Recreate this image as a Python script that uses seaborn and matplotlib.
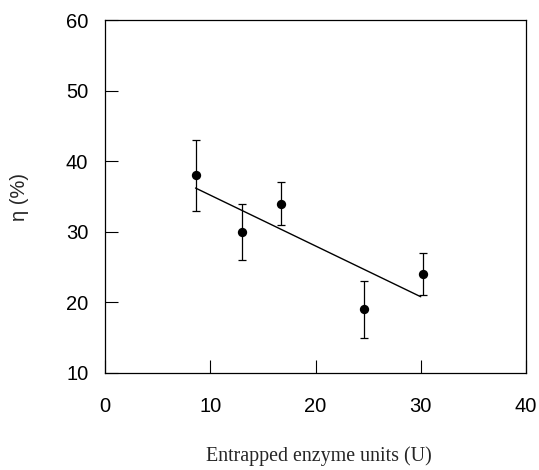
import matplotlib
matplotlib.use("Agg")
import matplotlib.pyplot as plt
import seaborn as sns
import pandas as pd

# data
enzyme_units = [8.6, 13.0, 16.7, 24.6, 30.2]
eta_mean = [38.0, 30.0, 34.0, 19.0, 24.0]
eta_upper = [43.0, 34.0, 37.0, 23.0, 27.0]
eta_lower = [33.0, 26.0, 31.0, 15.0, 21.0]
fit_x = [8.6, 30.0]
fit_y = [36.2, 20.8]
x_ticks = [0, 10, 20, 30, 40]
y_ticks = [10, 20, 30, 40, 50, 60]

sns.set_theme(style="ticks")
plt.rcParams["font.family"] = ["Liberation Sans", "DejaVu Sans"]

df = pd.DataFrame({"x": enzyme_units, "y": eta_mean})
fit = pd.DataFrame({"x": fit_x, "y": fit_y})

fig = plt.figure(figsize=(5.39, 4.70), dpi=100)
ax = fig.add_axes([0.1948, 0.2064, 0.7811, 0.751])

yerr = [[m - l for m, l in zip(eta_mean, eta_lower)],
        [u - m for m, u in zip(eta_mean, eta_upper)]]
ax.errorbar(enzyme_units, eta_mean, yerr=yerr, fmt="none", ecolor="black",
            elinewidth=0.9, capsize=3.2, capthick=0.9, zorder=2)
sns.lineplot(data=fit, x="x", y="y", color="black", linewidth=1.0, ax=ax, zorder=3)
sns.scatterplot(data=df, x="x", y="y", color="black", s=45, edgecolor="black",
                linewidth=0, ax=ax, zorder=4)

ax.set_xlim(0, 40)
ax.set_ylim(10, 60)
ax.set_xticks(x_ticks)
ax.set_yticks(y_ticks)
ax.tick_params(axis="both", direction="in", length=9.5, width=0.8, colors="black",
               labelsize=14.5, top=False, right=False)
ax.tick_params(axis="y", pad=12)
ax.tick_params(axis="x", pad=17)
for s in ax.spines.values():
    s.set_visible(True)
    s.set_linewidth(0.9)
    s.set_color("black")

ax.set_xlabel("Entrapped enzyme units (U)", fontfamily="Liberation Serif",
              fontsize=14.4, va="center")
ax.xaxis.set_label_coords(0.508, -0.235)
ax.set_ylabel("η (%)", fontsize=14.5, va="center")
ax.yaxis.set_label_coords(-0.204, 0.5)

fig.savefig("out.png", dpi=100)
